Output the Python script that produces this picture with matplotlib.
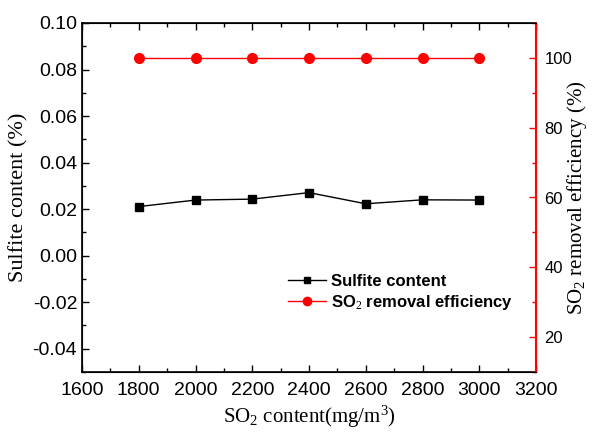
import matplotlib.pyplot as plt
from matplotlib.ticker import MultipleLocator
from matplotlib.lines import Line2D

so2_content = [1800, 2000, 2200, 2400, 2600, 2800, 3000]
sulfite = [0.0211, 0.0239, 0.0243, 0.0271, 0.0223, 0.0240, 0.0239]
removal = [100, 100, 100, 100, 100, 100, 100]

plt.rcParams['mathtext.fontset'] = 'custom'
plt.rcParams['mathtext.rm'] = 'Liberation Serif'
plt.rcParams['mathtext.it'] = 'Liberation Serif'
sans = 'Liberation Sans'
serif = 'Liberation Serif'

fig = plt.figure(figsize=(5.93, 4.36), dpi=100)
ax = fig.add_axes([82 / 593, 1 - 372 / 436, (536 - 82) / 593, (372 - 23) / 436])
ax2 = ax.twinx()

ax.plot(so2_content, sulfite, color='black', marker='s', markersize=6, linewidth=1)
ax2.plot(so2_content, removal, color='red', marker='o', markersize=7, linewidth=1)

ax.set_xlim(1600, 3200)
ax.set_ylim(-0.05, 0.10)
ax2.set_ylim(10, 110)

ax.xaxis.set_major_locator(MultipleLocator(200))
ax.xaxis.set_minor_locator(MultipleLocator(100))
ax.yaxis.set_minor_locator(MultipleLocator(0.01))
ax2.yaxis.set_minor_locator(MultipleLocator(10))
ax.set_yticks([-0.04, -0.02, 0.0, 0.02, 0.04, 0.06, 0.08, 0.10])
ax.set_yticklabels(['-0.04', '-0.02', '0.00', '0.02', '0.04', '0.06', '0.08', '0.10'])
ax2.set_yticks([20, 40, 60, 80, 100])

ax.tick_params(axis='both', which='both', direction='in', top=True, right=False,
               labelsize=14, width=1)
ax.tick_params(which='major', length=5)
ax.tick_params(which='minor', length=3)
ax.tick_params(axis='x', pad=7)
ax2.tick_params(axis='y', which='both', direction='in', colors='red', labelcolor='black',
                labelsize=12, width=1)
ax2.tick_params(which='major', length=5, pad=6)
ax2.tick_params(which='minor', length=3)
for lab in ax.get_xticklabels() + ax.get_yticklabels() + ax2.get_yticklabels():
    lab.set_fontfamily(sans)

ax2.spines['right'].set_color('red')
ax2.spines['right'].set_linewidth(1.5)
for s in ['left', 'top', 'bottom']:
    ax.spines[s].set_linewidth(1.2)

ax.set_xlabel('SO$_2$ content(mg/m$^3$)', fontsize=15, family=serif, labelpad=4)
ax.set_ylabel('Sulfite content (%)', fontsize=16, family=serif, labelpad=3)
ax2.set_ylabel('SO$_2$ removal efficiency (%)', fontsize=15, family=serif)
ax2.yaxis.set_label_coords(1.064, 0.5)

handles = [Line2D([], [], color='black', marker='s', markersize=5, linewidth=1),
           Line2D([], [], color='red', marker='o', markersize=6, linewidth=1)]
ax.legend(handles, ['Sulfite content', 'SO$_2$ removal efficiency'],
          loc='upper left', bbox_to_anchor=(0.42, 0.325), frameon=False,
          prop={'family': sans, 'weight': 'bold', 'size': 12},
          handlelength=2.3, handletextpad=0.3, labelspacing=0.25)

fig.savefig('out.png', dpi=100)
